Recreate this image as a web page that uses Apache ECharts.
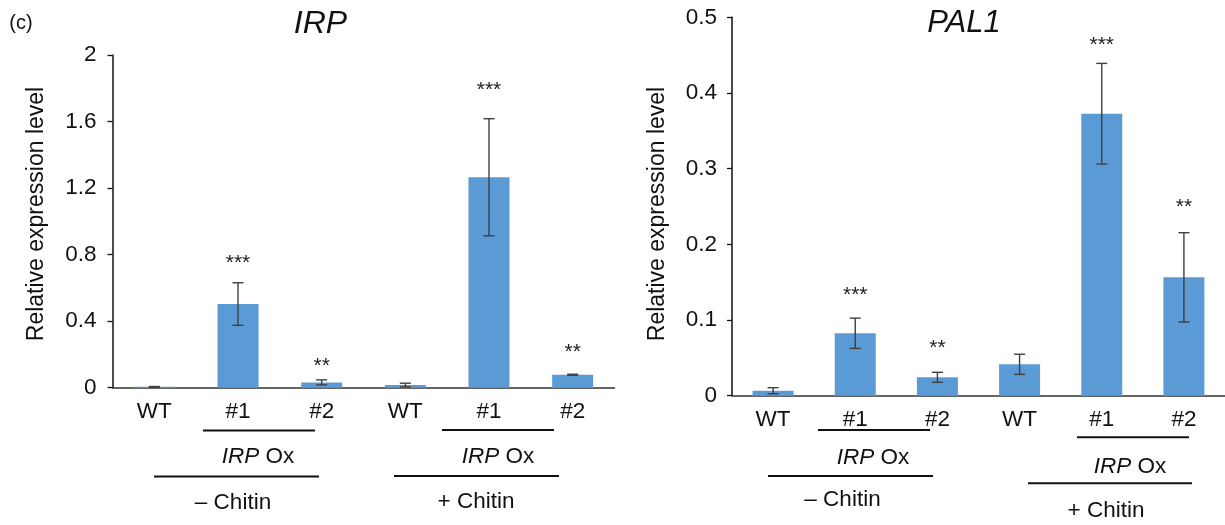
<!DOCTYPE html>
<html>
<head>
<meta charset="utf-8">
<script src="https://cdn.jsdelivr.net/npm/echarts@6/dist/echarts.min.js"></script>
<style>
  html, body { margin: 0; padding: 0; background: #fff; }
  #chart { width: 1225px; height: 525px; }
</style>
</head>
<body>
<div id="chart"></div>
<script>
// categories shared by both panels
var categories = ['WT', '#1', '#2', 'WT', '#1', '#2'];

// IRP panel
var irpMean = [0.005, 0.503, 0.032, 0.016, 1.265, 0.078];
var irpErr = [0.002, 0.128, 0.015, 0.011, 0.352, 0.003];
var irpStars = ['', '***', '**', '', '***', '**'];
var irpStarAt = [0, 0.773, 0.156, 0, 1.814, 0.237];
var irpTicks = [0, 0.4, 0.8, 1.2, 1.6, 2];

// PAL1 panel
var palMean = [0.0066, 0.0825, 0.0243, 0.0415, 0.3726, 0.1564];
var palErr = [0.004, 0.020, 0.0066, 0.0133, 0.0665, 0.059];
var palStars = ['', '***', '**', '', '***', '**'];
var palStarAt = [0, 0.1387, 0.0683, 0, 0.4678, 0.255];
var palTicks = [0, 0.1, 0.2, 0.3, 0.4, 0.5];

var FONT = '"Liberation Sans", Arial, Helvetica, sans-serif';
var BLUE = '#5b9bd5';

function errData(mean, err) {
  return mean.map(function (m, i) { return [i, m - err[i], m + err[i]]; });
}
function starData(stars, at) {
  var out = [];
  stars.forEach(function (s, i) { if (s) out.push([i, at[i], s]); });
  return out;
}

function renderErr(params, api) {
  var lo = api.coord([api.value(0), api.value(1)]);
  var hi = api.coord([api.value(0), api.value(2)]);
  var w = 5.5;
  var st = { stroke: '#3f3f3f', lineWidth: 1.4 };
  return {
    type: 'group',
    children: [
      { type: 'line', shape: { x1: lo[0], y1: lo[1], x2: hi[0], y2: hi[1] }, style: st },
      { type: 'line', shape: { x1: lo[0] - w, y1: lo[1], x2: lo[0] + w, y2: lo[1] }, style: st },
      { type: 'line', shape: { x1: hi[0] - w, y1: hi[1], x2: hi[0] + w, y2: hi[1] }, style: st }
    ]
  };
}

function renderStar(params, api) {
  var p = api.coord([api.value(0), api.value(1)]);
  return {
    type: 'text',
    x: p[0], y: p[1] + 4,
    style: {
      text: api.value(2), fontSize: 21, fontFamily: FONT, fill: '#222',
      align: 'center', verticalAlign: 'middle'
    }
  };
}

function valueAxis(gridIndex, max, interval, ticks, labelMargin) {
  return {
    type: 'value', gridIndex: gridIndex, min: 0, max: max, interval: interval,
    splitLine: { show: false },
    axisLine: { show: true, lineStyle: { color: '#111', width: 1.5 } },
    axisTick: { show: true, length: 5, lineStyle: { color: '#111', width: 1.3 } },
    axisLabel: {
      margin: labelMargin, fontSize: 22.5, fontFamily: FONT, color: '#111',
      formatter: function (v) {
        var t = ticks.find(function (x) { return Math.abs(x - v) < 1e-9; });
        return t === undefined ? '' : String(t);
      }
    }
  };
}

function catAxis(gridIndex) {
  return {
    type: 'category', gridIndex: gridIndex, data: categories,
    axisLine: { show: true, lineStyle: { color: '#333', width: 1.5 } },
    axisTick: { show: false },
    axisLabel: { margin: 13, fontSize: 22.5, fontFamily: FONT, color: '#111', interval: 0 }
  };
}

function txt(x, y, text, size, italic) {
  return {
    type: 'text', x: x, y: y,
    style: {
      text: text, fontSize: size, fontFamily: FONT, fill: '#111',
      fontStyle: italic ? 'italic' : 'normal', align: 'center', verticalAlign: 'middle'
    }
  };
}
function oxLabel(x, y) {
  return {
    type: 'text', x: x, y: y,
    style: {
      text: '{i|IRP} Ox', fontSize: 22.5, fontFamily: FONT, fill: '#111',
      align: 'center', verticalAlign: 'middle',
      rich: { i: { fontStyle: 'italic', fontSize: 22.5, fontFamily: FONT, fill: '#111' } }
    }
  };
}
function hline(x1, x2, y) {
  return {
    type: 'line', shape: { x1: x1, y1: y, x2: x2, y2: y },
    style: { stroke: '#111', lineWidth: 2 }
  };
}
function ylabel(x, y) {
  return {
    type: 'text', x: x, y: y, rotation: Math.PI / 2,
    style: {
      text: 'Relative expression level', fontSize: 23, fontFamily: FONT, fill: '#111',
      align: 'center', verticalAlign: 'middle'
    }
  };
}

var chart = echarts.init(document.getElementById('chart'));
chart.setOption({
  backgroundColor: '#fff',
  animation: false,
  grid: [
    { left: 112.5, top: 55, width: 502, height: 332.7 },
    { left: 732, top: 17.3, width: 495, height: 378.4 }
  ],
  xAxis: [catAxis(0), catAxis(1)],
  yAxis: [valueAxis(0, 2, 0.4, irpTicks, 16), valueAxis(1, 0.5, 0.1, palTicks, 15)],
  series: [
    { type: 'bar', xAxisIndex: 0, yAxisIndex: 0, data: irpMean, barWidth: 41, itemStyle: { color: BLUE } },
    { type: 'custom', xAxisIndex: 0, yAxisIndex: 0, data: errData(irpMean, irpErr), renderItem: renderErr, z: 5 },
    { type: 'custom', xAxisIndex: 0, yAxisIndex: 0, data: starData(irpStars, irpStarAt), renderItem: renderStar, z: 5 },
    { type: 'bar', xAxisIndex: 1, yAxisIndex: 1, data: palMean, barWidth: 41, itemStyle: { color: BLUE } },
    { type: 'custom', xAxisIndex: 1, yAxisIndex: 1, data: errData(palMean, palErr), renderItem: renderErr, z: 5 },
    { type: 'custom', xAxisIndex: 1, yAxisIndex: 1, data: starData(palStars, palStarAt), renderItem: renderStar, z: 5 }
  ],
  graphic: [
    txt(21, 23, '(c)', 20, false),
    txt(320.5, 24, 'IRP', 32, true),
    txt(964, 23, 'PAL1', 31, true),
    ylabel(37, 214),
    ylabel(658, 214),
    // left panel grouping
    hline(203, 315, 430.5), oxLabel(258, 457),
    hline(154, 319, 476.5), txt(233, 503, '– Chitin', 22.5, false),
    hline(442, 554, 430), oxLabel(498, 456.7),
    hline(394, 559, 476), txt(476, 501.7, '+ Chitin', 22.5, false),
    // right panel grouping
    hline(818, 930, 430), oxLabel(873, 458),
    hline(768, 933, 476), txt(842.5, 500, '– Chitin', 22.5, false),
    hline(1077, 1189, 437.3), oxLabel(1130, 466.7),
    hline(1028, 1192, 483.3), txt(1106, 510.7, '+ Chitin', 22.5, false)
  ]
});
</script>
</body>
</html>
